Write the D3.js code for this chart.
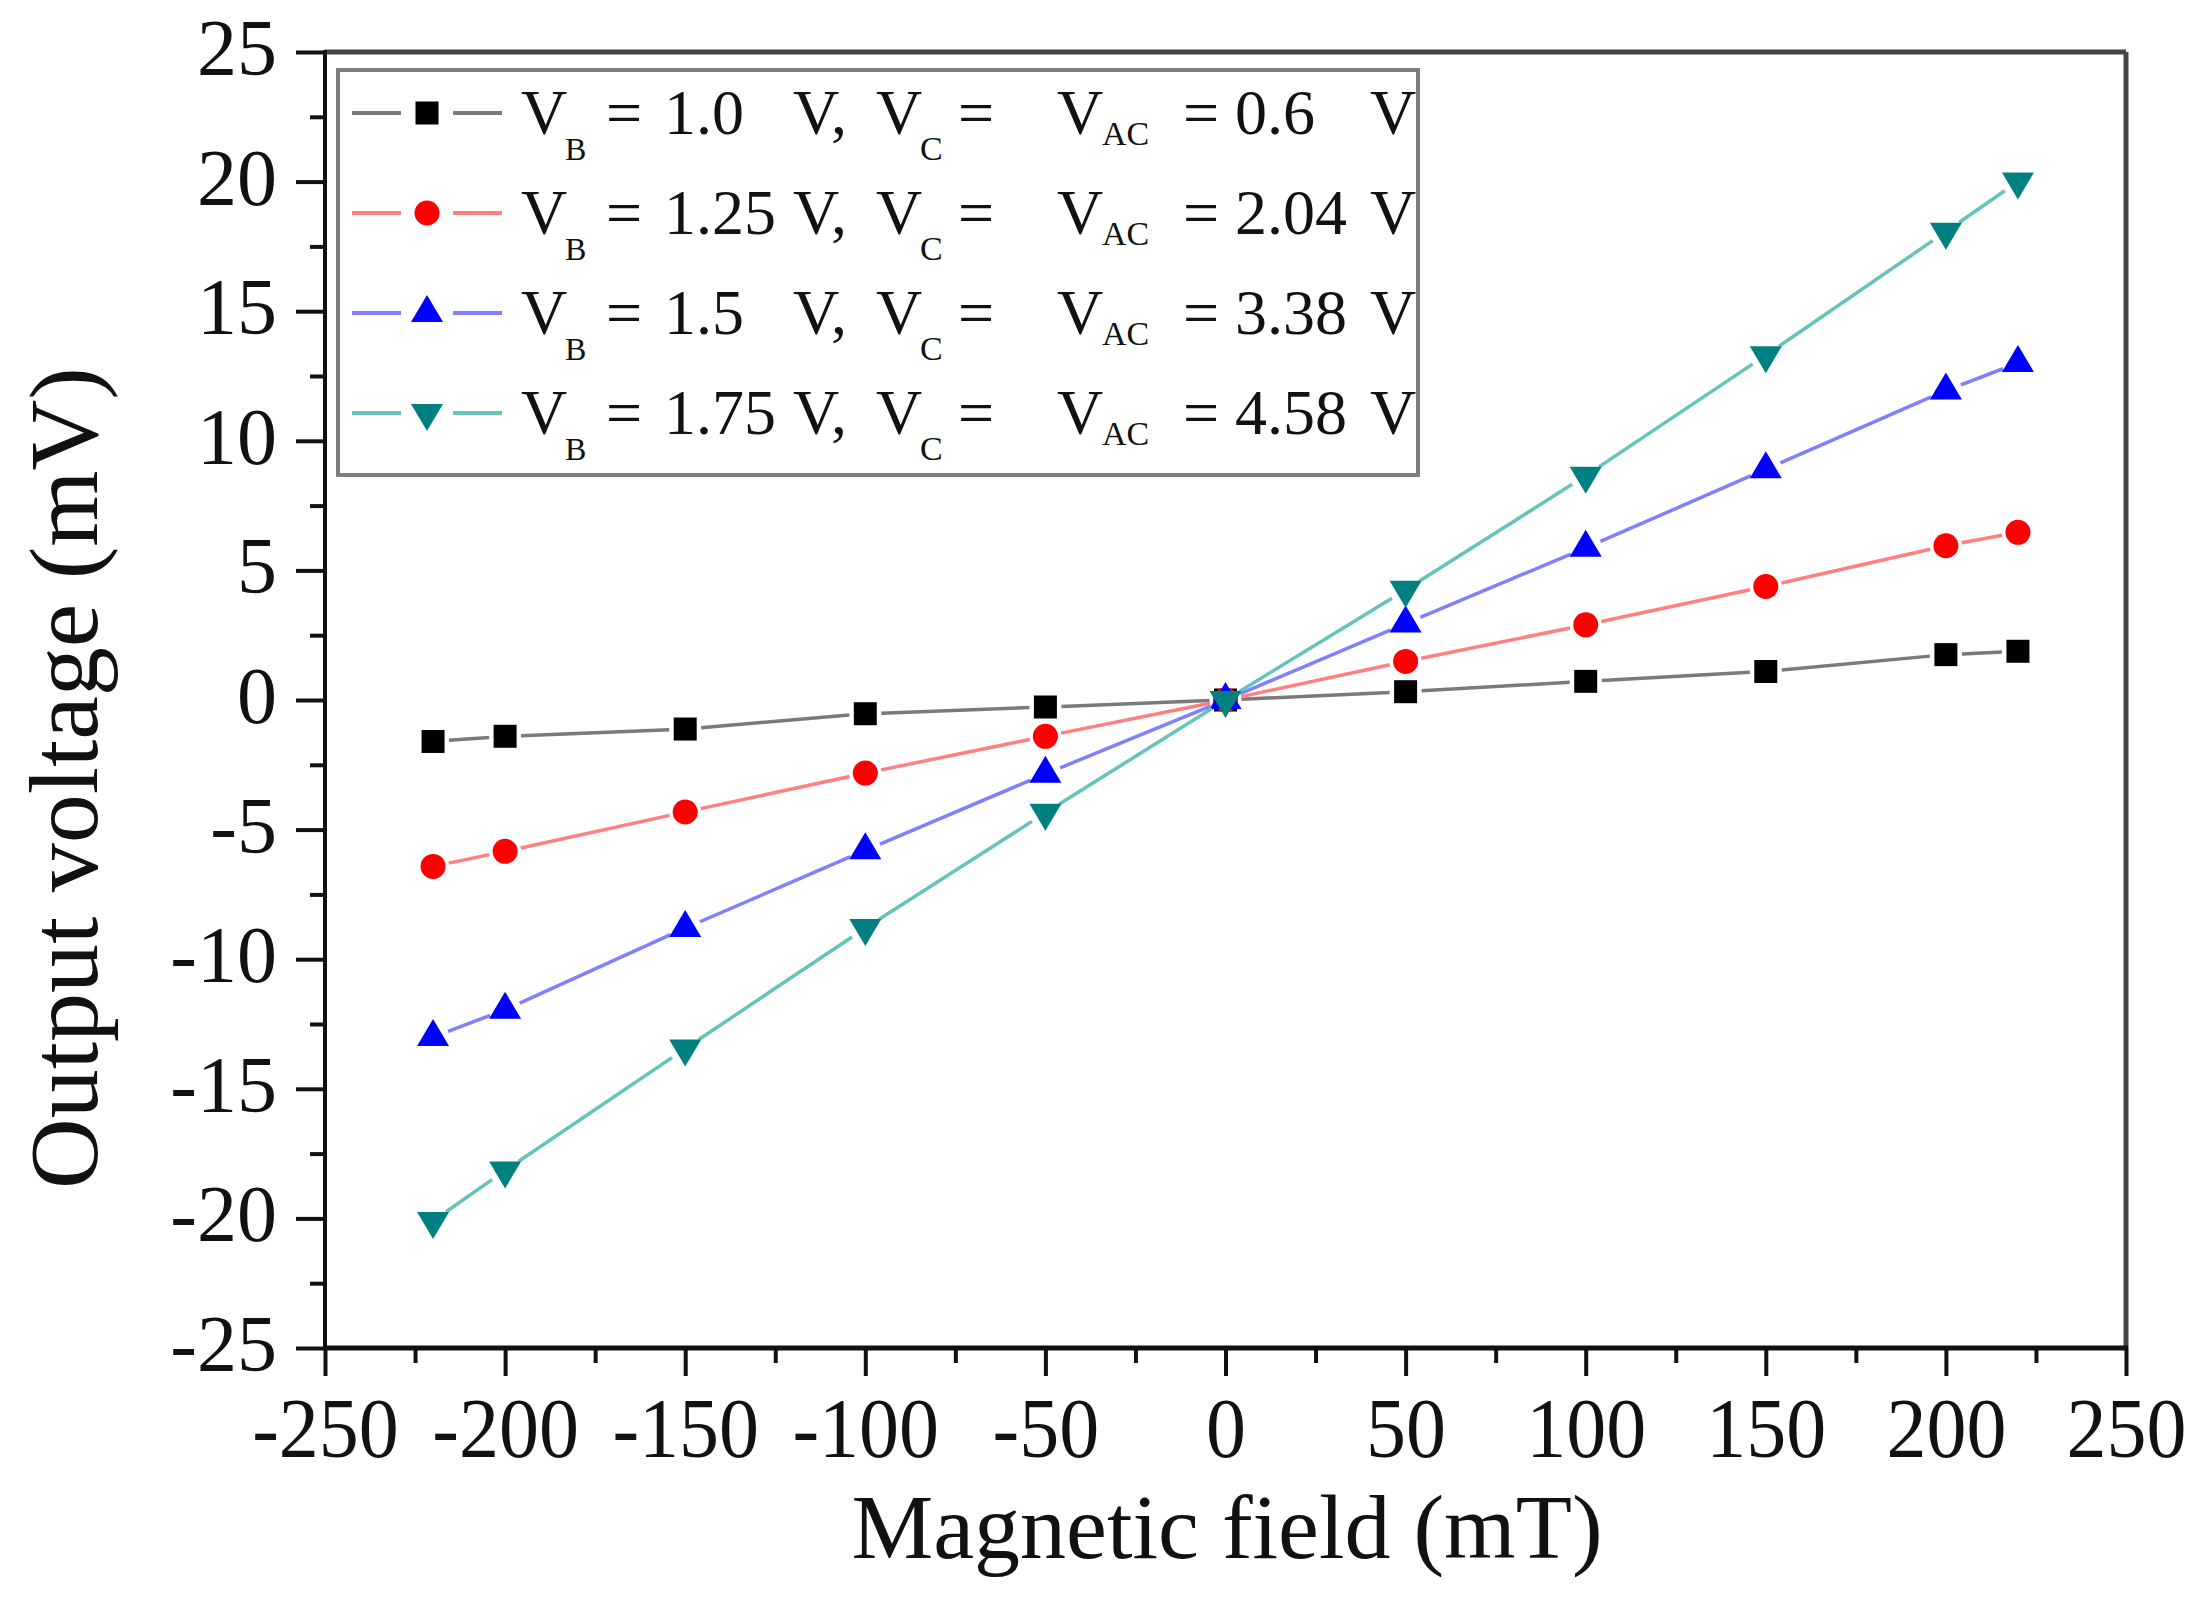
<!DOCTYPE html>
<html>
<head>
<meta charset="utf-8">
<script src="https://cdn.jsdelivr.net/npm/d3@7"></script>
<style>
  html, body { margin: 0; padding: 0; background: #fff; }
  svg { display: block; }
  text { font-family: "Liberation Serif", "Times New Roman", serif; fill: #111; }
</style>
</head>
<body>
<svg id="chart" width="2207" height="1601"></svg>
<script>
// ---------- data ----------
const fieldValues = [-220, -200, -150, -100, -50, 0, 50, 100, 150, 200, 220];
const seriesVB10  = [-1.6, -1.4, -1.12, -0.53, -0.27, 0, 0.32, 0.72, 1.1, 1.75, 1.88];
const seriesVB125 = [-6.42, -5.84, -4.32, -2.82, -1.4, 0, 1.49, 2.9, 4.38, 5.95, 6.47];
const seriesVB15  = [-13.0, -11.95, -8.8, -5.8, -2.85, 0, 2.95, 5.87, 8.9, 11.94, 13.0];
const seriesVB175 = [-20.1, -18.15, -13.45, -8.8, -4.35, 0, 4.25, 8.65, 13.3, 18.07, 20.0];

const vbLabels  = ["1.0", "1.25", "1.5", "1.75"];
const vacLabels = ["0.6", "2.04", "3.38", "4.58"];

const xMajorTicks = [-250, -200, -150, -100, -50, 0, 50, 100, 150, 200, 250];
const xMinorTicks = [-225, -175, -125, -75, -25, 25, 75, 125, 175, 225];
const yMajorTicks = [-25, -20, -15, -10, -5, 0, 5, 10, 15, 20, 25];
const yMinorTicks = [-22.5, -17.5, -12.5, -7.5, -2.5, 2.5, 7.5, 12.5, 17.5, 22.5];

const xTitle = "Magnetic field (mT)";
const yTitle = "Output voltage (mV)";

// ---------- styles ----------
const seriesStyle = [
  { values: seriesVB10,  marker: "square",   fill: "#000000", line: "#7a7a7a" },
  { values: seriesVB125, marker: "circle",   fill: "#ff0000", line: "#ff8080" },
  { values: seriesVB15,  marker: "triUp",    fill: "#0000ff", line: "#8080ff" },
  { values: seriesVB175, marker: "triDown",  fill: "#008080", line: "#66c2bb" }
];

const svg = d3.select("#chart");
svg.append("rect").attr("width", 2207).attr("height", 1601).attr("fill", "#fff");

const L = 325, R = 2126, T = 52, B = 1348;
const x = d3.scaleLinear().domain([-250, 250]).range([L, R]);
const y = d3.scaleLinear().domain([-25, 25]).range([B, T]);

// marker shapes
function markerPath(kind) {
  switch (kind) {
    case "square":  return d3.symbol(d3.symbolSquare, 23 * 23)();
    case "circle":  return d3.symbol(d3.symbolCircle, Math.PI * 12.5 * 12.5)();
    case "triUp":   { const w = 32, h = 27; return `M0,${-2*h/3}L${w/2},${h/3}L${-w/2},${h/3}Z`; }
    case "triDown": { const w = 32, h = 27; return `M0,${2*h/3}L${w/2},${-h/3}L${-w/2},${-h/3}Z`; }
  }
}

// ---------- axes ----------
const xAxisMajor = d3.axisBottom(x).tickValues(xMajorTicks).tickSize(28).tickFormat(d3.format("d"));
const xAxisMinor = d3.axisBottom(x).tickValues(xMinorTicks).tickSize(15).tickFormat("");
const yAxisMajor = d3.axisLeft(y).tickValues(yMajorTicks).tickSize(29).tickFormat(d3.format("d"));
const yAxisMinor = d3.axisLeft(y).tickValues(yMinorTicks).tickSize(15).tickFormat("");

function styleAxis(g) {
  g.select(".domain").remove();
  g.selectAll(".tick line").attr("stroke", "#111").attr("stroke-width", 4);
}

const gxMaj = svg.append("g").attr("transform", `translate(0,${B})`).call(xAxisMajor).call(styleAxis);
svg.append("g").attr("transform", `translate(0,${B})`).call(xAxisMinor).call(styleAxis);
const gyMaj = svg.append("g").attr("transform", `translate(${L},0)`).call(yAxisMajor).call(styleAxis);
svg.append("g").attr("transform", `translate(${L},0)`).call(yAxisMinor).call(styleAxis);

gxMaj.selectAll(".tick text")
  .attr("y", 0).attr("dy", null)
  .attr("transform", "translate(0,109) scale(1,1.06)")
  .style("font-family", "Liberation Serif")
  .style("font-size", "80px")
  .attr("fill", "#111")
  .text(d => d < 0 ? "-" + Math.abs(d) : String(d));

gyMaj.selectAll(".tick text")
  .attr("x", -48).attr("dy", "0.28em")
  .attr("text-anchor", "end")
  .style("font-family", "Liberation Serif")
  .style("font-size", "80px")
  .attr("fill", "#111")
  .text(d => d < 0 ? "-" + Math.abs(d) : String(d));

// frame
svg.append("line").attr("x1", L).attr("x2", R).attr("y1", T).attr("y2", T).attr("stroke", "#444").attr("stroke-width", 5);
svg.append("line").attr("x1", R).attr("x2", R).attr("y1", T).attr("y2", B).attr("stroke", "#444").attr("stroke-width", 5);
svg.append("line").attr("x1", L).attr("x2", L).attr("y1", T - 2).attr("y2", B + 2).attr("stroke", "#111").attr("stroke-width", 4);
svg.append("line").attr("x1", L - 2).attr("x2", R + 2).attr("y1", B).attr("y2", B).attr("stroke", "#111").attr("stroke-width", 5);

// ---------- series ----------
const gap = 16;
seriesStyle.forEach(s => {
  const pts = fieldValues.map((f, i) => [x(f), y(s.values[i])]);
  const g = svg.append("g");
  // line segments with small gaps around markers
  const segs = [];
  for (let i = 0; i < pts.length - 1; i++) {
    const [x1, y1] = pts[i], [x2, y2] = pts[i + 1];
    const dx = x2 - x1, dy = y2 - y1, len = Math.hypot(dx, dy);
    if (len <= 2 * gap + 2) continue;
    const ux = dx / len, uy = dy / len;
    segs.push([[x1 + ux * gap, y1 + uy * gap], [x2 - ux * gap, y2 - uy * gap]]);
  }
  g.selectAll("path.seg").data(segs).enter().append("path")
    .attr("class", "seg")
    .attr("d", d => d3.line()(d))
    .attr("stroke", s.line).attr("stroke-width", 3.5).attr("fill", "none");
  g.selectAll("path.mk").data(fieldValues.map((f, i) => ({ f, v: s.values[i] }))).enter().append("path")
    .attr("class", "mk")
    .attr("d", markerPath(s.marker))
    .attr("transform", d => `translate(${x(d.f)},${y(d.v)})`)
    .attr("fill", s.fill);
});

// ---------- legend ----------
const lg = svg.append("g");
lg.append("rect").attr("x", 338).attr("y", 70).attr("width", 1080).attr("height", 405)
  .attr("fill", "#fff").attr("stroke", "#7d7d7d").attr("stroke-width", 4);

seriesStyle.forEach((s, i) => {
  const ry = 113 + i * 100;
  lg.append("line").attr("x1", 352).attr("x2", 401).attr("y1", ry).attr("y2", ry).attr("stroke", s.line).attr("stroke-width", 4);
  lg.append("line").attr("x1", 453).attr("x2", 502).attr("y1", ry).attr("y2", ry).attr("stroke", s.line).attr("stroke-width", 4);
  lg.append("path").attr("d", markerPath(s.marker)).attr("transform", `translate(427,${ry})`).attr("fill", s.fill);

  const base = ry + 21;
  const big = (tx, str, fill) => lg.append("text").attr("x", tx).attr("y", base)
      .style("font-size", "64px").attr("fill", fill || "#111").text(str);
  const sub = (tx, str, dyOff, size) => lg.append("text").attr("x", tx).attr("y", ry + dyOff)
      .style("font-size", size + "px").text(str);

  big(521, "V");
  sub(565, "B", 47, 32);
  big(606, "=", "#555");
  big(664, vbLabels[i]);
  big(793, "V,");
  big(876, "V");
  sub(920, "C", 47, 34);
  big(958, "=", "#555");
  big(1057, "V");
  sub(1102, "AC", 32, 34);
  big(1183, "=", "#555");
  big(1235, vacLabels[i]);
  big(1370, "V");
});

// ---------- titles ----------
svg.append("text").attr("x", 1227).attr("y", 1558).attr("text-anchor", "middle")
  .style("font-size", "92px").text(xTitle);
svg.append("text").attr("transform", "translate(97,778) rotate(-90)").attr("text-anchor", "middle")
  .style("font-size", "98px").text(yTitle);
</script>
</body>
</html>
